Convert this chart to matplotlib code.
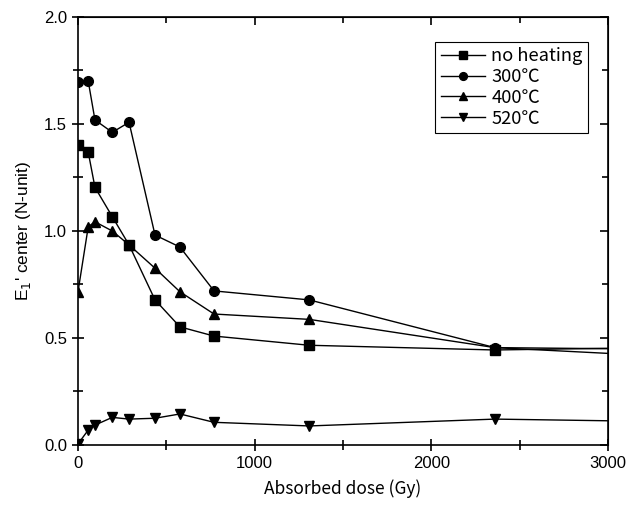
import matplotlib
matplotlib.use("Agg")
import matplotlib.pyplot as plt
from matplotlib.ticker import MultipleLocator

plt.rcParams['font.family'] = ['Liberation Sans', 'Noto Sans CJK JP', 'DejaVu Sans']
cjk = ['Noto Sans CJK JP', 'DejaVu Sans']

# absorbed dose (Gy); last point lies past the axis end and is clipped
dose = [0, 58, 96, 194, 289, 436, 577, 770, 1309, 2360, 3500]

no_heating = [1.40, 1.368, 1.204, 1.067, 0.935, 0.678, 0.552, 0.509, 0.466, 0.444, 0.458]
c300 = [1.698, 1.70, 1.519, 1.461, 1.508, 0.981, 0.925, 0.72, 0.678, 0.455, 0.407]
c400 = [0.716, 1.02, 1.043, 1.0, 0.935, 0.826, 0.716, 0.612, 0.587, 0.455, 0.446]
c520 = [0.005, 0.07, 0.093, 0.129, 0.121, 0.125, 0.145, 0.106, 0.089, 0.121, 0.107]

labels = ['no heating', '300℃', '400℃', '520℃']
markers = ['s', 'o', '^', 'v']

fig = plt.figure(figsize=(6.29, 5.07), dpi=100)
ax = fig.add_axes([0.124, 0.1223, 0.8426, 0.8442])

for ys, lab, m in zip([no_heating, c300, c400, c520], labels, markers):
    ax.plot(dose, ys, color='black', lw=1, marker=m, ms=7, label=lab)

ax.set_xlim(0, 3000)
ax.set_ylim(0, 2.0)
ax.xaxis.set_major_locator(MultipleLocator(1000))
ax.xaxis.set_minor_locator(MultipleLocator(500))
ax.yaxis.set_major_locator(MultipleLocator(0.5))
ax.yaxis.set_minor_locator(MultipleLocator(0.25))
ax.yaxis.set_major_formatter(plt.FormatStrFormatter('%.1f'))

ax.tick_params(which='both', direction='inout', labelsize=12, width=1.2)
ax.tick_params(which='major', length=9)
ax.tick_params(which='minor', length=7)
# top and right axes carry inward ticks only
sec_x = ax.secondary_xaxis('top')
sec_x.xaxis.set_major_locator(MultipleLocator(1000))
sec_x.xaxis.set_minor_locator(MultipleLocator(500))
sec_x.tick_params(which='both', direction='in', labeltop=False, width=1.2)
sec_x.tick_params(which='major', length=6)
sec_x.tick_params(which='minor', length=4)
sec_y = ax.secondary_yaxis('right')
sec_y.yaxis.set_major_locator(MultipleLocator(0.5))
sec_y.yaxis.set_minor_locator(MultipleLocator(0.25))
sec_y.tick_params(which='both', direction='in', labelright=False, width=1.2)
sec_y.tick_params(which='major', length=6)
sec_y.tick_params(which='minor', length=4)
for s in ax.spines.values():
    s.set_linewidth(1.2)

ax.set_xlabel('Absorbed dose (Gy)', fontsize=12.5, labelpad=6, family=cjk)
ax.set_ylabel("E$_1$' center (N-unit)", fontsize=12.5, labelpad=8)

leg = ax.legend(loc='upper left', bbox_to_anchor=(0.674, 0.942), borderaxespad=0,
                handlelength=2.4, markerscale=0.8, fancybox=False, framealpha=1,
                edgecolor='black', borderpad=0.3, labelspacing=0.15, handletextpad=0.35,
                prop={'family': cjk, 'size': 13.2})
leg.get_frame().set_linewidth(0.8)

fig.savefig('out.png', dpi=100)
